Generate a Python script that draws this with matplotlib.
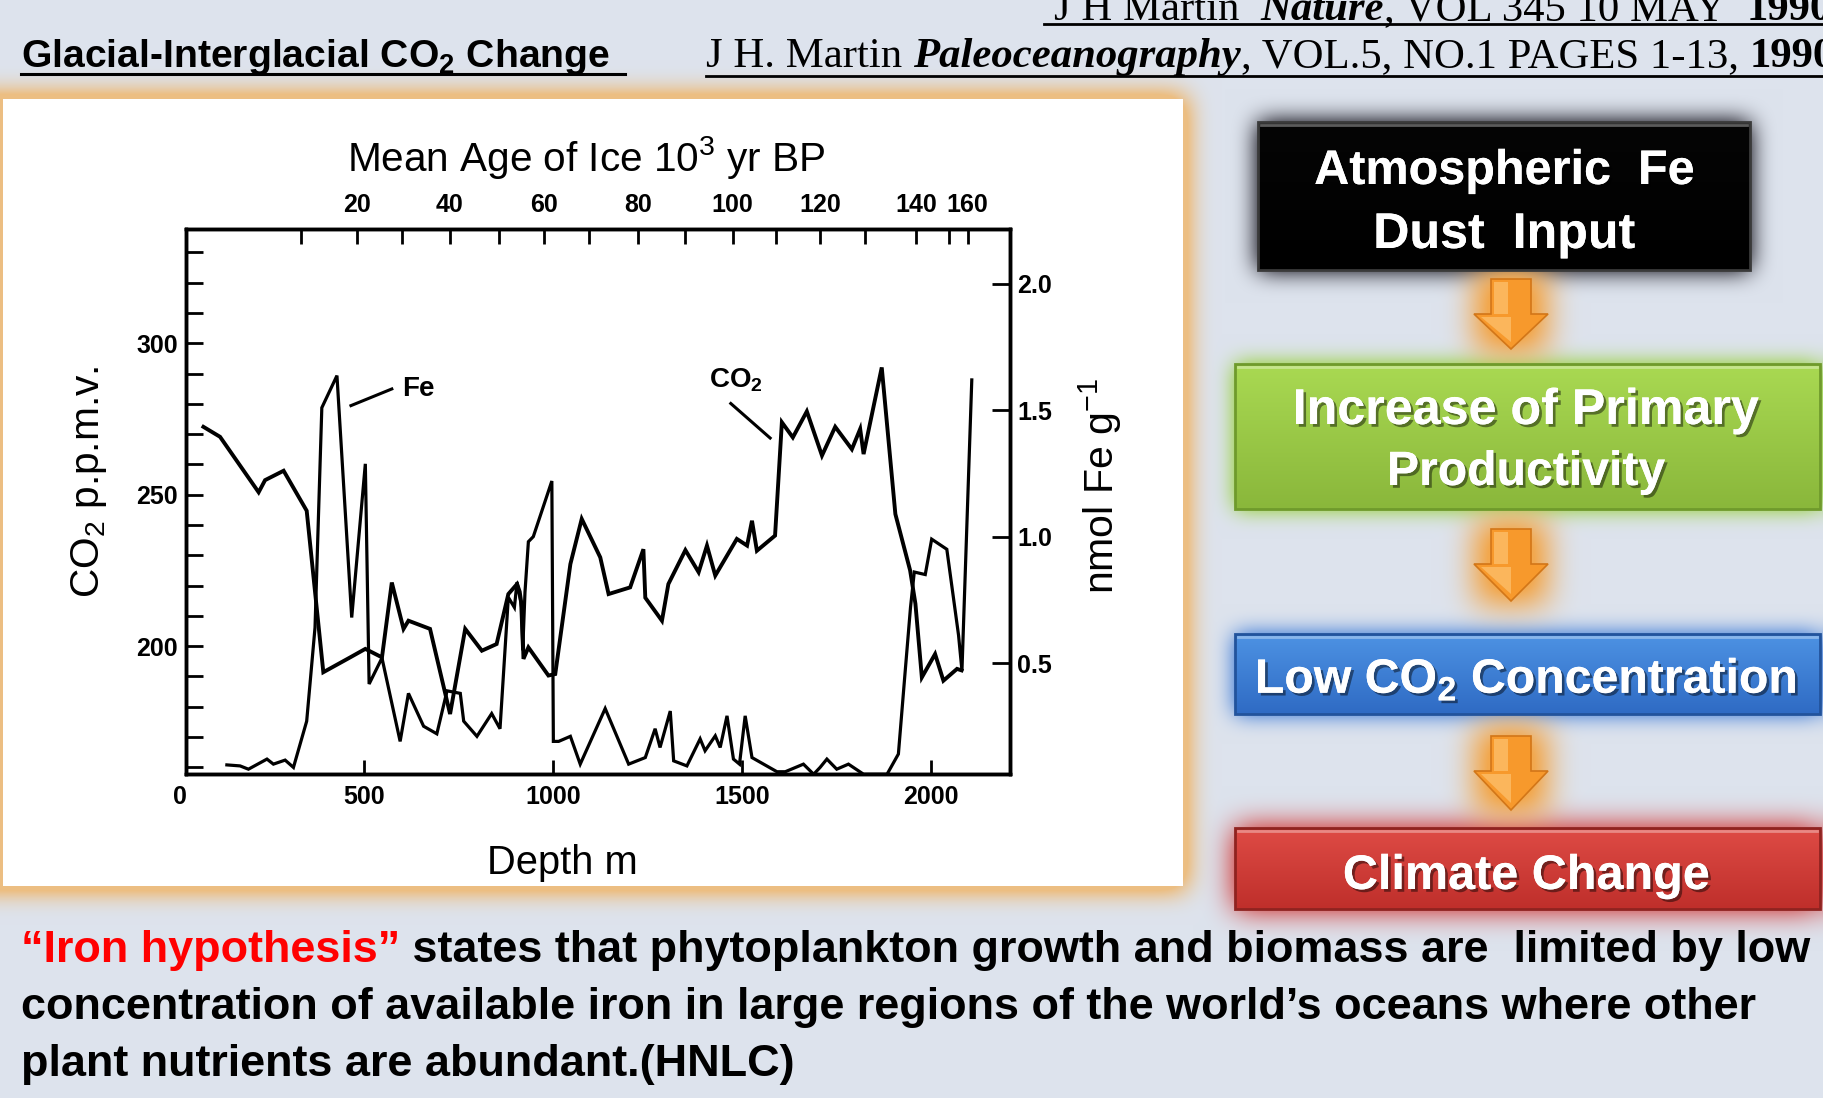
import numpy as np
import matplotlib.pyplot as plt
import matplotlib.patheffects as pe
from matplotlib.patches import Rectangle, Polygon

# --- data (Martin 1990, Vostok core) ---
co2_depth = [76, 120, 222, 239, 288, 349, 393, 464, 504, 548, 574, 605, 618, 675, 728,
             768, 812, 851, 882, 905, 912, 918, 922, 935, 988, 1006, 1046, 1076, 1125,
             1147, 1204, 1239, 1244, 1288, 1305, 1350, 1385, 1407, 1429, 1486, 1513, 1526,
             1539, 1587, 1605, 1634, 1671, 1711, 1746, 1790, 1812, 1821, 1869, 1905, 1944,
             1958, 1975, 2010, 2032, 2068, 2080]
co2_ppm = [272.4, 269.1, 250.8, 254.8, 257.9, 244.7, 191.4, 196.3, 199.1, 196.3, 221.0,
           205.7, 208.4, 205.7, 177.6, 205.7, 198.5, 200.7, 217.2, 220.5, 218.0, 212.8,
           195.8, 199.6, 190.3, 190.8, 227.1, 242.0, 229.3, 217.2, 219.4, 232.0, 216.0,
           208.4, 220.5, 231.7, 224.4, 233.2, 223.3, 235.4, 233.2, 241.4, 231.5, 236.5,
           273.9, 268.9, 277.5, 262.9, 272.4, 265.0, 271.7, 263.4, 292.0, 243.6, 225.0,
           214.0, 189.7, 197.4, 188.6, 192.5, 192.0]

fe_depth = [138, 173, 195, 244, 261, 292, 314, 349, 371, 389, 429, 468, 504, 514, 548,
            596, 618, 658, 693, 720, 755, 764, 799, 838, 860, 882, 898, 905, 915, 920,
            926, 935, 948, 997, 1001, 1015, 1046, 1072, 1138, 1200, 1244, 1270, 1283,
            1310, 1319, 1354, 1389, 1402, 1429, 1442, 1460, 1477, 1493, 1508, 1526, 1592,
            1614, 1662, 1689, 1706, 1724, 1750, 1781, 1821, 1883, 1913, 1930, 1945, 1955,
            1984, 2001, 2041, 2072, 2081, 2107]
fe_nmol = [0.097, 0.093, 0.080, 0.12, 0.10, 0.116, 0.087, 0.27, 0.64, 1.51, 1.637, 0.68,
           1.288, 0.417, 0.52, 0.19, 0.38, 0.25, 0.22, 0.39, 0.38, 0.27, 0.21, 0.30, 0.24,
           0.76, 0.72, 0.82, 0.74, 0.55, 0.78, 0.98, 1.0, 1.22, 0.19, 0.19, 0.21, 0.10,
           0.32, 0.10, 0.126, 0.24, 0.166, 0.31, 0.113, 0.093, 0.20, 0.153, 0.212, 0.166,
           0.291, 0.12, 0.10, 0.291, 0.126, 0.07, 0.07, 0.10, 0.06, 0.087, 0.12, 0.08,
           0.10, 0.06, 0.06, 0.14, 0.45, 0.72, 0.86, 0.85, 0.99, 0.95, 0.61, 0.47, 1.62]

age_kyr = [10, 20, 30, 40, 50, 60, 70, 80, 90, 100, 110, 120, 130, 140, 150, 160]
age_depth = [335, 483, 602, 727, 857, 976, 1094, 1224, 1349, 1475, 1590, 1707, 1824,
             1959, 2047, 2096]
depth_ticks = [500, 1000, 1500, 2000]
co2_ticks = [200, 250, 300]
fe_ticks = [0.5, 1.0, 1.5, 2.0]

flow_lines = [["Atmospheric  Fe", "Dust  Input"],
              ["Increase of Primary", "Productivity"],
              [r"Low CO$_\mathbf{2}$ Concentration"],
              ["Climate Change"]]

W, H = 1823, 1098
plt.rcParams['font.family'] = ['Liberation Sans', 'DejaVu Sans']
plt.rcParams['mathtext.fontset'] = 'custom'
plt.rcParams['mathtext.rm'] = 'Liberation Sans'
plt.rcParams['mathtext.it'] = 'Liberation Sans:italic'
plt.rcParams['mathtext.bf'] = 'Liberation Sans:bold'

fig = plt.figure(figsize=(W / 100, H / 100), dpi=100)
renderer = fig.canvas.get_renderer()


# soft glows for the slide background
def blur1d(a, r, axis):
    a = np.moveaxis(a, axis, 0)
    p = np.pad(a, ((r + 1, r), (0, 0)), mode='edge')
    c = np.cumsum(p, axis=0)
    out = (c[2 * r + 1:] - c[:-2 * r - 1]) / (2 * r + 1)
    return np.moveaxis(out, 0, axis)


def blur(m, r):
    for _ in range(3):
        m = blur1d(m, r, 0)
        m = blur1d(m, r, 1)
    return m


def glow(img, box, color, r, strength):
    m = np.zeros((H, W))
    x0, y0, x1, y1 = box
    m[y0:y1, x0:x1] = 1
    a = np.clip(blur(m, r) * strength, 0, 1)[..., None]
    return img * (1 - a) + np.array(color) / 255 * a


bg = np.empty((H, W, 3))
bg[:] = np.array([221, 227, 237]) / 255
bg = glow(bg, (0, 96, 1186, 889), (236, 190, 130), 12, 2.2)
bg[99:886, 3:1183] = 1.0
bg = glow(bg, (1258, 122, 1750, 270), (70, 70, 80), 11, 1.7)
bg = glow(bg, (1235, 364, 1820, 509), (165, 212, 95), 10, 1.6)
bg = glow(bg, (1235, 634, 1820, 714), (95, 145, 220), 10, 1.6)
bg = glow(bg, (1235, 828, 1820, 909), (212, 85, 85), 14, 1.6)
for y0, y1 in [(270, 352), (520, 604), (727, 813)]:
    bg = glow(bg, (1476, y0, 1546, y1), (242, 168, 78), 15, 1.3)

bgax = fig.add_axes([0, 0, 1, 1])
bgax.imshow(bg, extent=(0, W, H, 0), aspect='auto', interpolation='bilinear')
bgax.set_xlim(0, W)
bgax.set_ylim(H, 0)
bgax.axis('off')

# --- the ice core chart ---
ax = fig.add_axes([186 / W, 1 - 774 / H, 824 / W, 545 / H])
ax.set_facecolor('white')
ax.plot(co2_depth, co2_ppm, color='black', lw=2.8, solid_joinstyle='miter')
ax.set_xlim(30, 2208)
ax.set_ylim(157.8, 337.7)

axfe = ax.twinx()
axfe.plot(fe_depth, fe_nmol, color='black', lw=2.3, solid_joinstyle='miter')
axfe.set_ylim(0.061, 2.217)

axtop = ax.twiny()
axtop.set_xlim(ax.get_xlim())

for a in (ax, axfe, axtop):
    for s in a.spines.values():
        s.set_linewidth(2.4)

tick_font = dict(fontsize=18, fontweight='bold')
ax.set_xticks(depth_ticks)
ax.set_xticklabels([str(d) for d in depth_ticks], **tick_font)
ax.set_yticks(co2_ticks)
ax.set_yticklabels([str(c) for c in co2_ticks], **tick_font)
ax.set_yticks(np.arange(160, 340, 10), minor=True)
ax.tick_params(axis='x', direction='in', length=10, width=2, pad=8)
ax.tick_params(axis='y', which='both', direction='in', length=12, width=2, pad=6)
ax.annotate('0', xy=(0, 0), xycoords=('data', 'axes fraction'), xytext=(4, -8),
            textcoords='offset points', ha='center', va='top',
            annotation_clip=False, **tick_font)

axfe.set_yticks(fe_ticks)
axfe.set_yticklabels(['%.1f' % f for f in fe_ticks], **tick_font)
axfe.tick_params(axis='y', direction='in', length=13, width=2, pad=5)

axtop.set_xticks(age_depth)
axtop.set_xticklabels([str(a) if a % 20 == 0 else '' for a in age_kyr], **tick_font)
axtop.tick_params(axis='x', direction='in', length=11, width=2, pad=9)

# series labels with leader lines
ax.plot([466, 574], [279.4, 284.9], color='black', lw=2.2)
ax.text(600, 284.8, 'Fe', fontsize=20, fontweight='bold', va='center', ha='left')
ax.plot([1470, 1574], [280.1, 268.7], color='black', lw=2.2)
ax.text(1412, 287.8, r'CO$_\mathbf{2}$', fontsize=20, fontweight='bold',
        va='center', ha='left')

# --- overlay for texts and the flow chart (pixel coordinates) ---
ov = fig.add_axes([0, 0, 1, 1])
ov.set_xlim(0, W)
ov.set_ylim(H, 0)
ov.set_autoscale_on(False)
ov.axis('off')


def fit_text(x, y, s, length, vertical=False, **kw):
    t = ov.text(x, y, s, fontsize=20, **kw)
    bb = t.get_window_extent(renderer)
    cur = bb.height if vertical else bb.width
    t.set_fontsize(20 * length / cur)
    return t


def advance(s, size, **kw):
    t = ov.text(0, 0, s + '|', fontsize=size, **kw)
    w1 = t.get_window_extent(renderer).width
    t.set_text('|')
    w2 = t.get_window_extent(renderer).width
    t.remove()
    return w1 - w2


def run(x, y, parts, size):
    for s, kw in parts:
        ov.text(x, y, s, fontsize=size, va='baseline', ha='left', **kw)
        x += advance(s, size, **kw)
    return x


# chart axis titles
fit_text(586, 171, r'Mean Age of Ice 10$^3$ yr BP', 479, ha='center', va='baseline')
fit_text(562, 874, 'Depth m', 150, ha='center', va='baseline')
fit_text(89, 482, r'CO$_2$ p.p.m.v.', 233, vertical=True, rotation=90,
         ha='center', va='center')
fit_text(1100, 486, r'nmol Fe g$^{-1}$', 217, vertical=True, rotation=90,
         ha='center', va='center')

# header
fit_text(21, 67, r'Glacial-Interglacial CO$_\mathbf{2}$ Change', 589,
         fontweight='bold', va='baseline', ha='left')
ov.plot([21, 625], [74, 74], color='black', lw=2.2)

serif = 'Liberation Serif'
ref2 = [('J H. Martin ', dict(family=serif)),
        ('Paleoceanography', dict(family=serif, style='italic', weight='bold')),
        (', VOL.5, NO.1 PAGES 1-13, ', dict(family=serif)),
        ('1990', dict(family=serif, weight='bold'))]
ref1 = [('J H Martin  ', dict(family=serif)),
        ('Nature', dict(family=serif, style='italic', weight='bold')),
        (', VOL 345 10 MAY  ', dict(family=serif)),
        ('1990', dict(family=serif, weight='bold'))]
w10 = sum(advance(s, 10, **kw) for s, kw in ref2[:3])
ref_size = 10 * (1734 - 706) / w10
run(706, 67, ref2, ref_size * 1.015)
run(1054, 20, ref1, ref_size * 1.015)
ov.plot([706, W], [76, 76], color='black', lw=2)
ov.plot([1044, W], [24, 24], color='black', lw=2)

# bottom statement
body = [("\u201cIron hypothesis\u201d", dict(weight='bold', color='#ff0000')),
        (" states that phytoplankton growth and biomass are  limited by low",
         dict(weight='bold', color='black'))]
line2 = "concentration of available iron in large regions of the world\u2019s oceans where other"
w10 = advance(line2, 10, weight='bold')
body_size = 10 * (1759 - 21) / w10
run(21, 962, body, body_size)
ov.text(21, 1019, line2, fontsize=body_size, weight='bold', va='baseline')
ov.text(21, 1076, "plant nutrients are abundant.(HNLC)", fontsize=body_size,
        weight='bold', va='baseline')

# --- flow chart ---
boxes = [(1258, 122, 1750, 270, '#050505', '#000000', '#3a3a3a'),
         (1235, 364, 1820, 509, '#a9d952', '#8ab73b', '#6f9a2c'),
         (1235, 634, 1820, 714, '#4d92e3', '#2f6bc4', '#22539c'),
         (1235, 828, 1820, 909, '#de4b45', '#bf2f2b', '#8f2320')]
for x0, y0, x1, y1, ctop, cbot, cedge in boxes:
    g = np.linspace(0, 1, 64)[:, None, None]
    top = np.array(plt.matplotlib.colors.to_rgb(ctop))
    bot = np.array(plt.matplotlib.colors.to_rgb(cbot))
    ov.imshow(top * (1 - g) + bot * g, extent=(x0, x1, y1, y0), aspect='auto', zorder=2)
    ov.add_patch(Rectangle((x0, y0), x1 - x0, y1 - y0, facecolor='none',
                           edgecolor=cedge, lw=2, zorder=3))
    ov.plot([x0 + 3, x1 - 3], [y0 + 3, y0 + 3], color='white', alpha=0.35, lw=2, zorder=3)

shadow = [pe.withSimplePatchShadow(offset=(2, -2), shadow_rgbFace='black', alpha=0.45),
          pe.Normal()]
text_pos = [[(1504, 184, 380), (1504, 248, 262)],
            [(1526, 424, 466), (1526, 485, 278)],
            [(1526, 693, 543)],
            [(1526, 889, 366)]]
for lines, pos in zip(flow_lines, text_pos):
    for s, (x, y, w) in zip(lines, pos):
        t = fit_text(x, y, s, w, ha='center', va='baseline', color='white',
                     fontweight='bold', zorder=4)
        t.set_path_effects(shadow)

cx, bw, hw = 1511, 20, 37
for ytop, yhead, ytip in [(279, 314, 349), (529, 564, 601), (736, 771, 810)]:
    pts = [(cx - bw, ytop), (cx + bw, ytop), (cx + bw, yhead), (cx + hw, yhead),
           (cx, ytip), (cx - hw, yhead), (cx - bw, yhead)]
    ov.add_patch(Polygon(pts, closed=True, facecolor='#f7992c', edgecolor='#d27618',
                         lw=1.2, zorder=3))
    ov.add_patch(Polygon([(cx - bw + 3, ytop + 3), (cx - 3, ytop + 3), (cx - 3, yhead),
                          (cx - bw + 3, yhead)], facecolor='#fbb65c', edgecolor='none',
                         zorder=3))
    ov.add_patch(Polygon([(cx - hw + 7, yhead + 3), (cx, yhead + 3), (cx, ytip - 7)],
                         facecolor='#fbb65c', edgecolor='none', zorder=3))

fig.savefig('out.png', dpi=100)
